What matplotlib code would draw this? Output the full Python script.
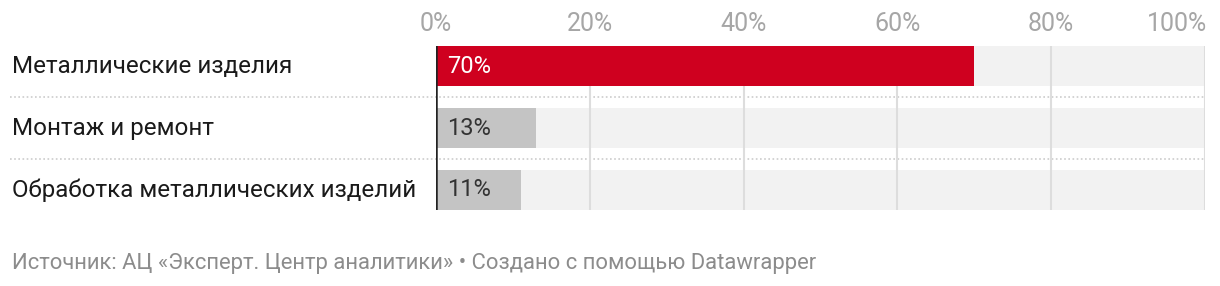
import matplotlib
matplotlib.use('Agg')
import matplotlib.pyplot as plt
import matplotlib.transforms as mtransforms

plt.rcParams['font.family'] = ['Roboto', 'DejaVu Sans']

# data
categories = ["Металлические изделия", "Монтаж и ремонт", "Обработка металлических изделий"]
values = [70, 13, 11]
bar_colors = ["#cf001f", "#c4c4c4", "#c4c4c4"]
label_colors = ["#ffffff", "#333333", "#333333"]
ticks = [0, 20, 40, 60, 80, 100]
tick_labels = ["0%", "20%", "40%", "60%", "80%", "100%"]
footer = "Источник: АЦ «Эксперт. Центр аналитики» • Создано с помощью Datawrapper"

W, H = 1220, 286
fig = plt.figure(figsize=(W / 100, H / 100), dpi=100)
x0, x1 = 436, 1205
y_top, y_bot = 46, 210
ax = fig.add_axes([x0 / W, (H - y_bot) / H, (x1 - x0) / W, (y_bot - y_top) / H])

h = 40 / 62
ypos = list(range(len(categories)))
ax.set_xlim(0, 100)
ax.set_ylim(len(categories) - 1 + h / 2, -h / 2)

# background tracks
ax.barh(ypos, [100] * len(ypos), height=h, color="#f2f2f2", zorder=1)
# gridlines
for t in ticks[1:]:
    ax.axvline(t, color="#dddddd", lw=1.5, zorder=2)
# bars
ax.barh(ypos, values, height=h, color=bar_colors, zorder=3)
ax.axvline(0, color="#222222", lw=1.8, zorder=4)

for y, v, c in zip(ypos, values, label_colors):
    ax.text(1.4, y, f"{v}%", color=c, fontsize=17, va='center', ha='left', zorder=5)

# separators
for s in [0.5, 1.5]:
    ax.axhline(s, xmin=(10 - x0) / (x1 - x0), xmax=1, color="#cccccc", lw=1.2,
               ls=(0, (1, 1.5)), clip_on=False, zorder=0)

# category labels
trans = mtransforms.blended_transform_factory(fig.transFigure, ax.transData)
for y, cat in zip(ypos, categories):
    fig.text(12 / W, y, cat, fontsize=17.4, color="#1a1a1a", va='center', ha='left',
             transform=trans)

# tick labels on top
for t, lab in zip(ticks, tick_labels):
    ha = 'right' if t == 100 else 'center'
    xx = 100.3 if t == 100 else t
    ax.text(xx, -h / 2 - 0.36, lab, fontsize=18, color="#a6a6a6", ha=ha, va='center',
            clip_on=False)

ax.set_axis_off()

fig.text(12 / W, 1 - 263 / H, footer, fontsize=15.8, color="#8c8c8c", ha='left', va='center')

fig.savefig("out.png", dpi=100)
